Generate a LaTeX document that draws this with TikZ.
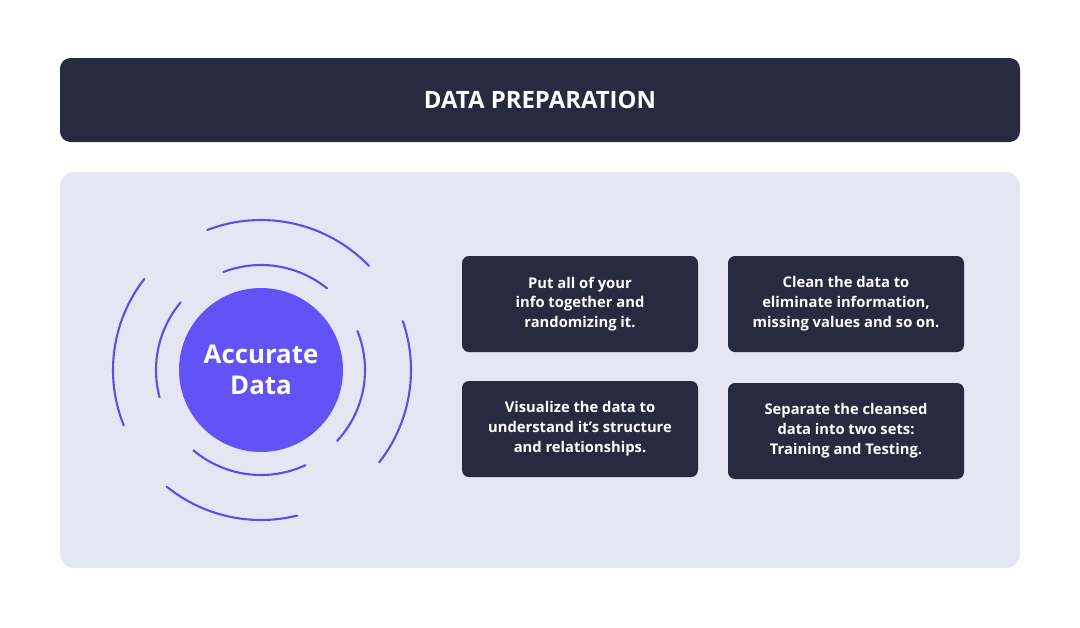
\documentclass[tikz,border=0pt]{standalone}
\usepackage{fontspec}
\setmainfont{Open Sans}
\definecolor{navy}{HTML}{262B3F}
\definecolor{panelbg}{HTML}{E5E6F4}
\definecolor{violet}{HTML}{6352F6}
\definecolor{ring}{HTML}{5B4FE8}
\tikzset{
  stepbox/.style={fill=navy, rounded corners=4pt, minimum width=236*0.02cm, minimum height=96*0.02cm,
    text=white, align=center, font=\bfseries\fontsize{8.4}{11.3}\selectfont, inner sep=0pt},
  ringarc/.style={ring, line width=1.2pt, line cap=round}
}
\begin{document}
\begin{tikzpicture}[x=0.02cm, y=-0.02cm]
  \useasboundingbox (0,0) rectangle (1080,627);
  % header
  \node[fill=navy, rounded corners=6pt, minimum width=960*0.02cm, minimum height=84*0.02cm,
    text=white, font=\bfseries\fontsize{13.6}{16}\selectfont] (title) at (540,100) {DATA PREPARATION};
  % panel
  \fill[panelbg, rounded corners=8pt] (60,172) rectangle (1020,568);
  % centre
  \node[circle, fill=violet, minimum size=164*0.02cm, text=white, align=center,
    font=\bfseries\fontsize{14.7}{18}\selectfont] (core) at (261,370) {Accurate\\Data};
  % rings
  \foreach \a/\b/\r in {111/44/150, 111/51/105, 142/202/148, 140/195/105,
                        22/-43/104, 19/-38/150, 230/295/105, 231/284/150} {
    \draw[ringarc] ([shift={(\a:\r*0.02cm)}]core.center) arc[start angle=\a, end angle=\b, radius=\r*0.02cm];
  }
  % steps
  \node[stepbox] (gather) at (580,304) {Put all of your\\info together and\\randomizing it.};
  \node[stepbox] (clean) at (846,304) {Clean the data to\\eliminate information,\\missing values and so on.};
  \node[stepbox] (visual) at (580,429) {Visualize the data to\\understand it’s structure\\and relationships.};
  \node[stepbox] (split) at (846,431) {Separate the cleansed\\data into two sets:\\Training and Testing.};
\end{tikzpicture}
\end{document}
